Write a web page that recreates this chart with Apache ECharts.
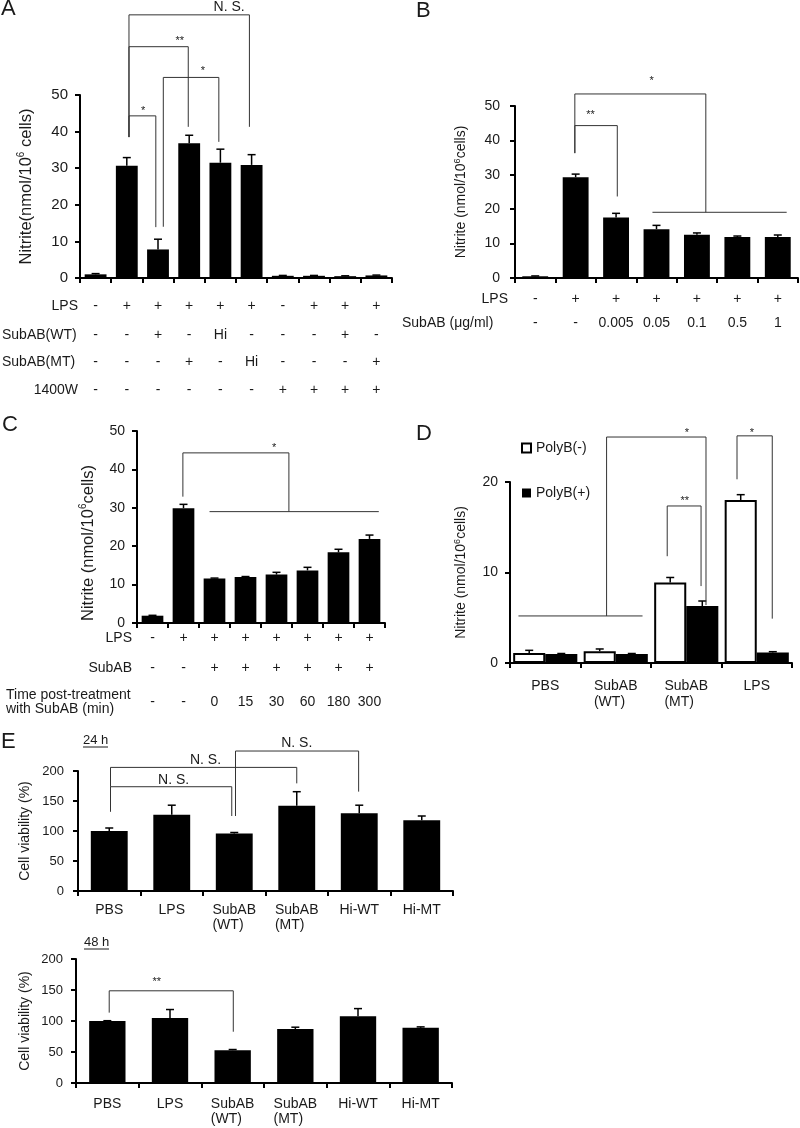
<!DOCTYPE html>
<html><head><meta charset="utf-8">
<script src="https://cdn.jsdelivr.net/npm/echarts@6/dist/echarts.min.js"></script>
<style>html,body{margin:0;padding:0;background:#fff}#c{width:800px;height:1128px}</style>
</head><body><div id="c"></div>
<script>
// ================= DATA =================
// Panel A
const condA   = ['a1','a2','a3','a4','a5','a6','a7','a8','a9','a10'];
const lpsA    = ['-','+','+','+','+','+','-','+','+','+'];
const wtA     = ['-','-','+','-','Hi','-','-','-','+','-'];
const mtA     = ['-','-','-','+','-','Hi','-','-','-','+'];
const w1400A  = ['-','-','-','-','-','-','+','+','+','+'];
const nitriteA = [1.0, 30.7, 7.8, 36.8, 31.5, 30.9, 0.6, 0.6, 0.5, 0.7];
const errA     = [0.2, 2.2, 2.8, 2.2, 3.7, 2.8, 0.1, 0.1, 0.1, 0.1];
const yTicksA  = [0, 10, 20, 30, 40, 50];
// Panel B
const condB   = ['b1','b2','b3','b4','b5','b6','b7'];
const lpsB    = ['-','+','+','+','+','+','+'];
const doseB   = ['-','-','0.005','0.05','0.1','0.5','1'];
const nitriteB = [0.5, 29.3, 17.6, 14.2, 12.6, 11.9, 11.9];
const errB     = [0.1, 0.9, 1.2, 1.1, 0.5, 0.3, 0.6];
const yTicksB  = [0, 10, 20, 30, 40, 50];
// Panel C
const condC   = ['c1','c2','c3','c4','c5','c6','c7','c8'];
const lpsC    = ['-','+','+','+','+','+','+','+'];
const subC    = ['-','-','+','+','+','+','+','+'];
const timeC   = ['-','-','0','15','30','60','180','300'];
const nitriteC = [1.9, 29.9, 11.6, 12.0, 12.6, 13.7, 18.4, 21.9];
const errC     = [0.1, 1.0, 0.1, 0.1, 0.6, 0.8, 0.8, 1.0];
const yTicksC  = [0, 10, 20, 30, 40, 50];
// Panel D
const groupsD    = ['PBS','SubAB\n(WT)','SubAB\n(MT)','LPS'];
const polyNeg    = [1.1, 1.3, 8.9, 18.0];
const polyNegErr = [0.3, 0.25, 0.55, 0.6];
const polyPos    = [1.0, 1.0, 6.3, 1.15];
const polyPosErr = [0.05, 0.05, 0.55, 0.1];
const yTicksD    = [0, 10, 20];
// Panel E
const groupsE = ['PBS','LPS','SubAB\n(WT)','SubAB\n(MT)','Hi-WT','Hi-MT'];
const via24   = [100, 127, 96, 142, 129.5, 118];
const err24   = [5, 16, 1.5, 23.5, 13.5, 7];
const via48   = [100, 105, 53, 87, 107.5, 89];
const err48   = [0.5, 13.5, 1, 3, 12.5, 1.5];
const yTicksE = [0, 50, 100, 150, 200];

// Significance brackets (x in category-index units, y in data units)
const bracketsA = [
  {paths:[[[1.07,38.5],[1.07,44.3],[1.93,44.3],[1.93,13.9]]], text:'*', at:[1.52,46.4]},
  {paths:[[[1.07,38.5],[1.07,63.2],[2.97,63.2],[2.97,41.3]]], text:'**', at:[2.7,65.6]},
  {paths:[[[2.17,14.0],[2.17,54.8],[3.95,54.8],[3.95,37.2]]], text:'*', at:[3.44,57.4]},
  {paths:[[[1.07,38.5],[1.07,71.9],[4.93,71.9],[4.93,41.3]]], text:'N. S.', at:[4.28,74.0]}
];
const bracketsB = [
  {paths:[[[0.98,36.3],[0.98,44.3],[2.03,44.3],[2.03,23.7]]], text:'**', at:[1.37,48.3]},
  {paths:[[[0.98,36.3],[0.98,53.5],[4.22,53.5],[4.22,19.1]],[[2.9,19.1],[6.22,19.1]]], text:'*', at:[2.88,58.1]}
];
const bracketsC = [
  {paths:[[[0.98,32.9],[0.98,44.3],[4.4,44.3],[4.4,29.0]],[[1.84,29.0],[7.3,29.0]]], text:'*', at:[3.92,46.4]}
];
const bracketsD = [
  {paths:[[[1.73,11.8],[1.73,17.35],[2.21,17.35],[2.21,8.5]]], text:'**', at:[1.98,18.2]},
  {paths:[[[0.87,5.2],[0.87,24.97],[2.28,24.97],[2.28,6.4]],[[-0.38,5.2],[1.38,5.2]]], text:'*', at:[2.01,25.7]},
  {paths:[[[2.72,20.3],[2.72,25.1],[3.22,25.1],[3.22,4.9]]], text:'*', at:[2.93,25.7]}
];
const brackets24 = [
  {paths:[[[0.02,132],[0.02,173.8],[1.96,173.8],[1.96,125]]], text:'N. S.', at:[1.03,185]},
  {paths:[[[0.02,173.8],[0.02,206],[3.0,206],[3.0,179.4]]], text:'N. S.', at:[1.54,217.5]},
  {paths:[[[2.02,125],[2.02,233.3],[3.99,233.3],[3.99,165.6]]], text:'N. S.', at:[3.0,246]}
];
const brackets48 = [
  {paths:[[[0.03,113.5],[0.03,148.7],[2.01,148.7],[2.01,82.7]]], text:'**', at:[0.79,167]}
];

// ================= BUILD =================
const F = '"Liberation Sans", Arial, Helvetica, sans-serif';
const TXT = '#1a1a1a';
const grids = [], xAxes = [], yAxes = [], series = [], graphics = [];

function addGrid(g){ grids.push(Object.assign({outerBoundsMode:'none', containLabel:false, show:false}, g)); return grids.length-1; }
function addX(o){ xAxes.push(o); return xAxes.length-1; }
function addY(o){ yAxes.push(o); return yAxes.length-1; }

function supRich(fs){
  return {
    sup:{fontFamily:F, fontSize:Math.round(fs*0.62), color:TXT, verticalAlign:'top', lineHeight:Math.round(fs*0.62)},
    n:{fontFamily:F, fontSize:fs, color:TXT, lineHeight:fs+3}
  };
}

function yAx(gi, ticks, name, nameGap, fs, margin, nameFs, namePad){
  return addY({
    type:'value', gridIndex:gi, min:ticks[0], max:ticks[ticks.length-1], interval:ticks[1]-ticks[0],
    name, nameLocation:'middle', nameGap, nameRotate:90, nameMoveOverlap:false,
    nameTextStyle:{fontFamily:F, fontSize:nameFs, color:TXT, rich:supRich(nameFs), padding:namePad||0},
    axisLine:{show:true, onZero:false, lineStyle:{color:'#000', width:2}},
    axisTick:{show:true, inside:false, length:5, lineStyle:{color:'#000', width:2}},
    axisLabel:{show:true, fontFamily:F, fontSize:fs, color:TXT, margin},
    splitLine:{show:false}
  });
}
function mainX(gi, cats, label){
  return addX({
    type:'category', gridIndex:gi, data:cats, position:'bottom',
    axisLine:{show:true, onZero:false, lineStyle:{color:'#000', width:2}},
    axisTick:{show:true, length:5, lineStyle:{color:'#000', width:2}},
    axisLabel: label || {show:false},
    splitLine:{show:false}
  });
}
function rowX(gi, labels, offset, name, nameAlign, nameGap, namePad){
  return addX({
    type:'category', gridIndex:gi, data:labels, position:'bottom', offset,
    axisLine:{show:false, onZero:false}, axisTick:{show:false}, splitLine:{show:false},
    axisLabel:{show:true, interval:0, margin:0, verticalAlign:'middle', fontFamily:F, fontSize:14, color:TXT},
    name, nameLocation:'start', nameGap, nameMoveOverlap:false,
    nameTextStyle:{fontFamily:F, fontSize:14, color:TXT, align:nameAlign, verticalAlign:'middle', lineHeight:14, padding:namePad||0}
  });
}
function hiddenX(gi, n){
  return addX({type:'value', gridIndex:gi, min:-0.5, max:n-0.5, show:false, position:'bottom',
    axisLine:{onZero:false}});
}
function groupLabel(margin, lh){
  return {show:true, interval:0, margin, verticalAlign:'top', fontFamily:F, fontSize:14, color:TXT, lineHeight:lh,
    formatter: v => v.indexOf('\n') < 0 ? v : v.split('\n').map(s => '{l|' + s + '}').join('\n'),
    rich:{l:{align:'left', fontFamily:F, fontSize:14, color:TXT, lineHeight:lh}}};
}
function barSeries(xi, yi, data, gap, extra){
  return Object.assign({type:'bar', xAxisIndex:xi, yAxisIndex:yi, data, barCategoryGap:gap,
    itemStyle:{color:'#000'}, silent:true, z:2}, extra||{});
}
function errSeries(xi, yi, vals, errs, offFrac){
  return {type:'custom', xAxisIndex:xi, yAxisIndex:yi, silent:true, z:4, clip:false,
    encode:{x:0, y:[1,2]},
    data: vals.map((v,i) => [i, v, v + errs[i]]),
    renderItem(params, api){
      const x = api.value(0);
      const p0 = api.coord([x, api.value(1)]);
      const p1 = api.coord([x, api.value(2)]);
      const bw = api.size([1,0])[0];
      const cx = p0[0] + bw * (offFrac || 0);
      const st = {stroke:'#000', lineWidth:1.5};
      return {type:'group', children:[
        {type:'line', shape:{x1:cx, y1:p0[1], x2:cx, y2:p1[1]}, style:st},
        {type:'line', shape:{x1:cx-4, y1:p1[1], x2:cx+4, y2:p1[1]}, style:st}
      ]};
    }};
}
function bracketSeries(xi, yi, list, fsNS){
  return {type:'custom', xAxisIndex:xi, yAxisIndex:yi, silent:true, z:6, clip:false,
    encode:{x:0, y:1},
    data: list.map(b => [b.at[0], 0]),
    renderItem(params, api){
      const b = list[params.dataIndex];
      const children = b.paths.map(path => ({type:'polyline',
        shape:{points: path.map(p => api.coord(p))},
        style:{stroke:'#333', lineWidth:1, fill:null}}));
      const lp = api.coord(b.at);
      const star = b.text.indexOf('*') >= 0;
      children.push({type:'text', x:lp[0], y:lp[1] + (star ? 3 : 0),
        style:{text:b.text, fill:TXT, font:(star ? 11 : fsNS) + 'px ' + F, align:'center', verticalAlign:'middle'}});
      return {type:'group', children};
    }};
}

// ---- Panel A ----
const gA = addGrid({left:80, top:95, width:312, height:183});
const xA = mainX(gA, condA);
rowX(gA, lpsA, 28, 'LPS', 'right', 2);
rowX(gA, wtA, 57, 'SubAB(WT)', 'left', 78);
rowX(gA, mtA, 84, 'SubAB(MT)', 'left', 78);
rowX(gA, w1400A, 112, '1400W', 'right', 2);
const hxA = hiddenX(gA, condA.length);
const yA = yAx(gA, yTicksA, '{n|Nitrite(nmol/10}{sup|6}{n| cells)}', 44, 15, 12, 16.5);
series.push(barSeries(xA, yA, nitriteA, '30%'));
series.push(errSeries(xA, yA, nitriteA, errA));
series.push(bracketSeries(hxA, yA, bracketsA, 14));

// ---- Panel B ----
const gB = addGrid({left:515, top:106, width:283, height:172});
const xB = mainX(gB, condB);
rowX(gB, lpsB, 21.5, 'LPS', 'right', 7);
rowX(gB, doseB, 45.5, 'SubAB (\u03bcg/ml)', 'left', 113);
const hxB = hiddenX(gB, condB.length);
const yB = yAx(gB, yTicksB, '{n|Nitrite (nmol/10}{sup|6}{n|cells)}', 45, 14, 15, 14);
series.push(barSeries(xB, yB, nitriteB, '36%'));
series.push(errSeries(xB, yB, nitriteB, errB));
series.push(bracketSeries(hxB, yB, bracketsB, 14));

// ---- Panel C ----
const gC = addGrid({left:137, top:431, width:248, height:192});
const xC = mainX(gC, condC);
rowX(gC, lpsC, 15.3, 'LPS', 'right', 5);
rowX(gC, subC, 45.3, 'SubAB', 'right', 5);
rowX(gC, timeC, 78.7, 'Time post-treatment\nwith SubAB (min)', 'left', 131, [0,0,16,0]);
const hxC = hiddenX(gC, condC.length);
const yC = yAx(gC, yTicksC, '{n|Nitrite (nmol/10}{sup|6}{n|cells)}', 39, 14, 12, 16.5, [0,32,0,0]);
series.push(barSeries(xC, yC, nitriteC, '30%'));
series.push(errSeries(xC, yC, nitriteC, errC));
series.push(bracketSeries(hxC, yC, bracketsC, 14));

// ---- Panel D ----
const gD = addGrid({left:510, top:482, width:282, height:181});
const xD = mainX(gD, groupsD, groupLabel(14.75, 16.5));
const hxD = hiddenX(gD, groupsD.length);
const yD = yAx(gD, yTicksD, '{n|Nitrite (nmol/10}{sup|6}{n|cells)}', 40, 14, 12, 14);
const gapD = 0.09;
series.push(barSeries(xD, yD, polyNeg, (gapD*100)+'%', {name:'PolyB(-)', barGap:'0%',
  itemStyle:{color:'#fff', borderColor:'#000', borderWidth:2}}));
series.push(barSeries(xD, yD, polyPos, (gapD*100)+'%', {name:'PolyB(+)', barGap:'0%',
  itemStyle:{color:'#000'}}));
series.push(errSeries(xD, yD, polyNeg, polyNegErr, -(1-gapD)/4));
series.push(errSeries(xD, yD, polyPos, polyPosErr, (1-gapD)/4));
series.push(bracketSeries(hxD, yD, bracketsD, 14));

// ---- Panel E 24 h ----
const gE1 = addGrid({left:78, top:771, width:375, height:120});
const xE1 = mainX(gE1, groupsE, groupLabel(11.25, 15.5));
const hxE1 = hiddenX(gE1, groupsE.length);
const yE1 = yAx(gE1, yTicksE, 'Cell viability (%)', 46, 13, 14, 14);
series.push(barSeries(xE1, yE1, via24, '41%'));
series.push(errSeries(xE1, yE1, via24, err24));
series.push(bracketSeries(hxE1, yE1, brackets24, 14));

// ---- Panel E 48 h ----
const gE2 = addGrid({left:76, top:959, width:376, height:124});
const xE2 = mainX(gE2, groupsE, groupLabel(13.25, 15.5));
const hxE2 = hiddenX(gE2, groupsE.length);
const yE2 = yAx(gE2, yTicksE, 'Cell viability (%)', 44, 13, 13, 14);
series.push(barSeries(xE2, yE2, via48, '42%'));
series.push(errSeries(xE2, yE2, via48, err48));
series.push(bracketSeries(hxE2, yE2, brackets48, 14));

// ---- Panel letters and sub-titles ----
function letter(t, x, y){ graphics.push({type:'text', x, y, silent:true,
  style:{text:t, fill:TXT, font:'22px ' + F, verticalAlign:'middle'}}); }
letter('A', 1, 9); letter('B', 416, 11); letter('C', 2, 425); letter('D', 416, 434); letter('E', 1, 742);
function underlined(t, x, y){
  graphics.push({type:'text', x, y, silent:true, style:{text:t, fill:TXT, font:'13px ' + F, verticalAlign:'middle'}});
  graphics.push({type:'line', silent:true, shape:{x1:x, y1:y+7, x2:x+25, y2:y+7}, style:{stroke:TXT, lineWidth:1}});
}
underlined('24 h', 83, 740);
underlined('48 h', 84, 942);

const chart = echarts.init(document.getElementById('c'), null, {renderer:'canvas'});
chart.setOption({
  animation:false,
  backgroundColor:'#fff',
  textStyle:{fontFamily:F},
  grid:grids, xAxis:xAxes, yAxis:yAxes, series,
  legend:{show:true, orient:'vertical', left:521, top:441, padding:0, itemWidth:9, itemHeight:9, itemGap:31,
    selectedMode:false, icon:'rect',
    textStyle:{fontFamily:F, fontSize:14, color:TXT},
    data:[
      {name:'PolyB(-)', itemStyle:{color:'#fff', borderColor:'#000', borderWidth:2}},
      {name:'PolyB(+)', itemStyle:{color:'#000', borderColor:'#000', borderWidth:0}}
    ]},
  graphic:graphics
});
</script></body></html>
